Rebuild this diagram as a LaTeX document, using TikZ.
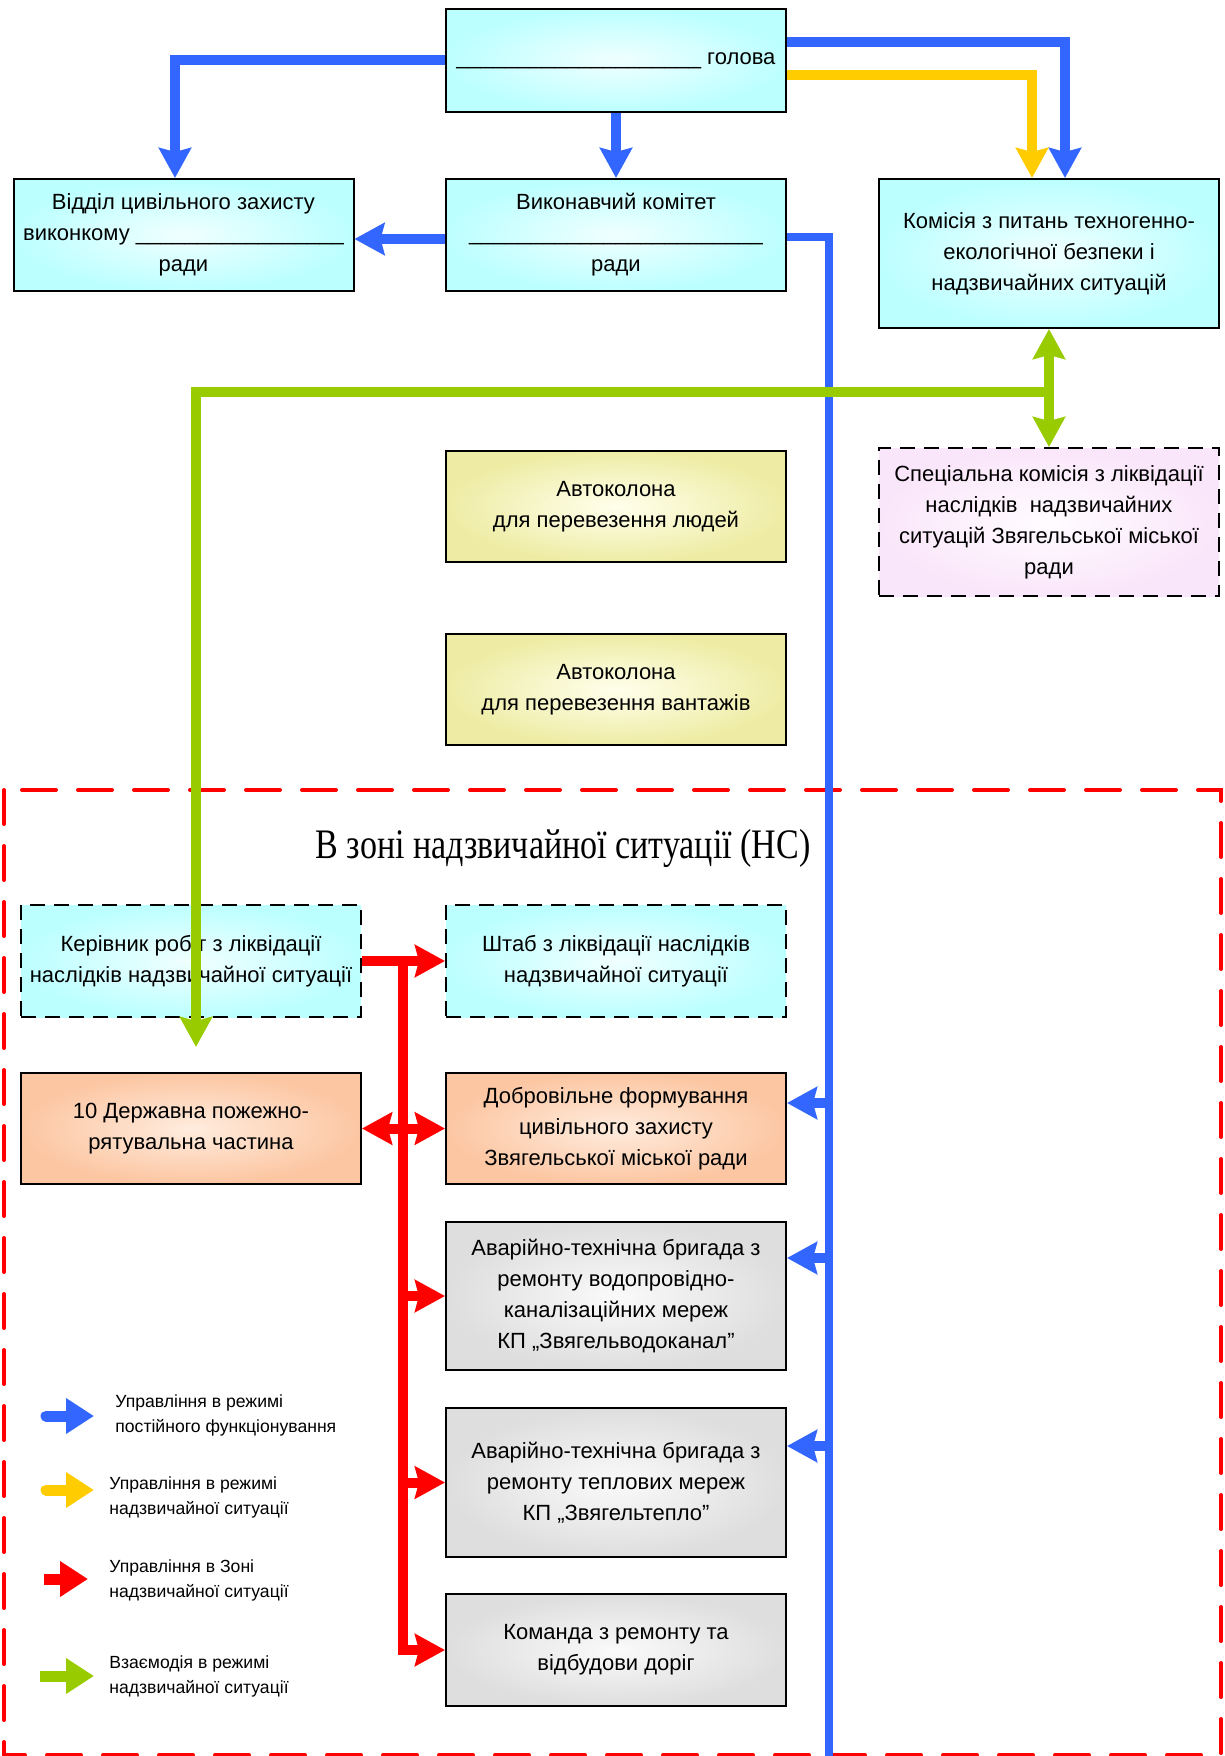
\documentclass[tikz,border=0pt]{standalone}
\usepackage{fontspec}
\setmainfont{Liberation Sans}
\newfontfamily\titlefont[FakeStretch=0.81]{Liberation Serif}
\usetikzlibrary{arrows.meta,shadows}
\definecolor{cblue}{RGB}{51,102,255}
\definecolor{cyellow}{RGB}{255,204,0}
\definecolor{cred}{RGB}{255,0,0}
\definecolor{cgreen}{RGB}{153,204,0}
\definecolor{cyanC}{RGB}{240,255,255}
\definecolor{cyanE}{RGB}{188,255,255}
\definecolor{yelC}{RGB}{255,255,236}
\definecolor{yelE}{RGB}{238,236,164}
\definecolor{orC}{RGB}{255,236,222}
\definecolor{orE}{RGB}{252,198,162}
\definecolor{grC}{RGB}{250,250,250}
\definecolor{grE}{RGB}{222,222,222}
\definecolor{pkC}{RGB}{255,252,255}
\definecolor{pkE}{RGB}{250,230,250}
\begin{document}
\begin{tikzpicture}[x=0.5pt,y=-0.5pt,
  txt/.style={align=center, font=\fontsize{11}{15.5}\selectfont, inner sep=1pt, minimum width=170pt},
  box/.style={txt, draw=black, line width=1pt,
    drop shadow={shadow xshift=0.7pt, shadow yshift=-0.7pt, fill=black!45, opacity=1}},
  dbox/.style={txt, draw=black, line width=1pt, dash pattern=on 7.5pt off 4.5pt},
  cyanbox/.style={inner color=cyanC, outer color=cyanE},
  yelbox/.style={inner color=yelC, outer color=yelE},
  orbox/.style={inner color=orC, outer color=orE},
  grbox/.style={inner color=grC, outer color=grE},
  pkbox/.style={inner color=pkC, outer color=pkE},
  tipA/.style={-{Stealth[length=15pt,width=16pt,inset=2pt]}},
  tipB/.style={{Stealth[length=15pt,width=16pt,inset=2pt]}-{Stealth[length=15pt,width=16pt,inset=2pt]}},
  blueln/.style={draw=cblue, line width=5pt},
  yelln/.style={draw=cyellow, line width=5pt},
  redln/.style={draw=cred, line width=5pt},
  greenln/.style={draw=cgreen, line width=5pt},
  legtxt/.style={anchor=west, align=left, font=\fontsize{8.8}{12.5}\selectfont, inner sep=0pt},
  legarrow/.style={line width=5.5pt, -{Triangle[length=14pt,width=17pt]}}
]
\useasboundingbox (0,0) rectangle (1225,1756);

% emergency zone
\draw[cred, line width=2pt, line cap=round, dash pattern=on 17pt off 11pt] (4,790) rectangle (1221,1755);
\node[font=\titlefont\fontsize{21}{24}\selectfont, anchor=base] (title) at (563,858) {В зоні надзвичайної ситуації (НС)};

% boxes
\node[box, cyanbox, minimum height=51.5pt] (head) at (616,60.5)
  {\_\_\_\_\_\_\_\_\_\_\_\_\_\_\_\_\_\_\_\_ голова};
\node[box, cyanbox, minimum height=56pt] (viddil) at (183.5,235)
  {Відділ цивільного захисту\\виконкому \_\_\_\_\_\_\_\_\_\_\_\_\_\_\_\_\_\\ради};
\node[box, cyanbox, minimum height=56pt] (vykon) at (616,235)
  {Виконавчий комітет\\\_\_\_\_\_\_\_\_\_\_\_\_\_\_\_\_\_\_\_\_\_\_\_\_\\ради};
\node[box, cyanbox, minimum height=74.5pt] (komis) at (1049,253.5)
  {Комісія з питань техногенно-\\екологічної безпеки і\\надзвичайних ситуацій};
\node[dbox, pkbox, minimum height=74pt] (spec) at (1049,522)
  {Спеціальна комісія з ліквідації\\наслідків\ \ надзвичайних\\ситуацій Звягельської міської\\ради};
\node[box, yelbox, minimum height=55.5pt] (auto1) at (616,506.5)
  {Автоколона\\для перевезення людей};
\node[box, yelbox, minimum height=55.5pt] (auto2) at (616,689.5)
  {Автоколона\\для перевезення вантажів};
\node[dbox, cyanbox, minimum height=56pt] (keriv) at (191,961)
  {Керівник робіт з ліквідації\\наслідків надзвичайної ситуації};
\node[dbox, cyanbox, minimum height=56pt] (shtab) at (616,961)
  {Штаб з ліквідації наслідків\\надзвичайної ситуації};
\node[box, orbox, minimum height=55.5pt] (pozh) at (191,1128.5)
  {10 Державна пожежно-\\рятувальна частина};
\node[box, orbox, minimum height=55.5pt] (dobro) at (616,1128.5)
  {Добровільне формування\\цивільного захисту\\Звягельської міської ради};
\node[box, grbox, minimum height=74pt] (avar1) at (616,1296)
  {Аварійно-технічна бригада з\\ремонту водопровідно-\\каналізаційних мереж\\КП „Звягельводоканал”};
\node[box, grbox, minimum height=74.5pt] (avar2) at (616,1482.5)
  {Аварійно-технічна бригада з\\ремонту теплових мереж\\КП „Звягельтепло”};
\node[box, grbox, minimum height=56pt] (koman) at (616,1650)
  {Команда з ремонту та\\відбудови доріг};

% coordinates
\coordinate (c1) at (175,60);
\coordinate (c2) at (1065,42);
\coordinate (c3) at (1032,75);
\coordinate (c4) at (400,239);
\coordinate (bt) at (829,237);
\coordinate (bb) at (829,1760);
\coordinate (b1) at (829,1103);
\coordinate (b2) at (829,1258);
\coordinate (b3) at (829,1446);
\coordinate (g1) at (1049,392);
\coordinate (g2) at (196,392);
\coordinate (g3) at (196,1047);
\coordinate (r0) at (403,961);
\coordinate (r5) at (403,1650);

% blue (permanent mode)
\draw[blueln, tipA] (head.west |- c1) -- (c1) -- (c1 |- viddil.north);
\draw[blueln, tipA] (head.south) -- (vykon.north);
\draw[blueln, tipA] (head.east |- c2) -- (c2) -- (c2 |- komis.north);
\draw[blueln, tipA] (vykon.west |- c4) -- (viddil.east |- c4);
\draw[blueln, line width=4pt] (vykon.east |- bt) -- (bt) -- (bb);
\draw[blueln, tipA] (b1) -- (b1 -| dobro.east);
\draw[blueln, tipA] (b2) -- (b2 -| avar1.east);
\draw[blueln, tipA] (b3) -- (b3 -| avar2.east);
% yellow (emergency mode)
\draw[yelln, tipA] (head.east |- c3) -- (c3) -- (c3 |- komis.north);

% green (interaction)
\draw[greenln, tipB] (komis.south) -- (spec.north);
\draw[greenln, tipA] (g1) -- (g2) -- (g3);

% red (zone control)
\draw[redln, tipA] (keriv.east) -- (shtab.west);
\draw[redln, tipA] (r0) -- (r5) -- (koman.west);
\draw[redln, tipB] (pozh.east) -- (dobro.west);
\draw[redln, tipA] (avar1.west -| r0) -- (avar1.west);
\draw[redln, tipA] (avar2.west -| r0) -- (avar2.west);

% legend
\draw[legarrow, cblue, line cap=round] (46,1416) -- (94,1416);
\draw[legarrow, cyellow, line cap=round] (46,1490) -- (94,1490);
\draw[legarrow, cred] (44,1579) -- (88,1579);
\draw[legarrow, cgreen] (40,1676) -- (94,1676);
\node[legtxt] (l1) at (115,1415) {Управління в режимі\\постійного функціонування};
\node[legtxt] (l2) at (109,1497) {Управління в режимі\\надзвичайної ситуації};
\node[legtxt] (l3) at (109,1580) {Управління в Зоні\\надзвичайної ситуації};
\node[legtxt] (l4) at (109,1676) {Взаємодія в режимі\\надзвичайної ситуації};
\end{tikzpicture}
\end{document}
